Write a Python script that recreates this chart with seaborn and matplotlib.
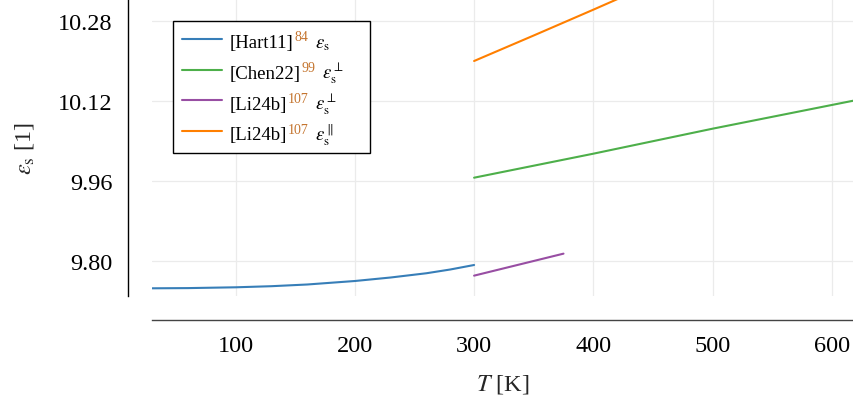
import numpy as np
import pandas as pd
import matplotlib
matplotlib.use("Agg")
import matplotlib.pyplot as plt
import seaborn as sns
from matplotlib.offsetbox import AnchoredOffsetbox, HPacker, VPacker, TextArea, DrawingArea
from matplotlib.lines import Line2D
from matplotlib.text import Text

# ---- data ----
hart_T = [30, 60, 100, 130, 160, 200, 230, 260, 280, 300]
hart_eps = [9.7454, 9.7458, 9.7474, 9.7496, 9.7530, 9.7600, 9.7670, 9.7755, 9.7830, 9.7920]

chen_T = [300, 400, 500, 600, 640]
chen_eps = [9.9666, 10.0146, 10.0646, 10.1120, 10.1310]

li_perp_T = [300, 375]
li_perp_eps = [9.7707, 9.8147]

li_par_T = [300, 350, 400, 450]
li_par_eps = [10.2000, 10.2510, 10.3026, 10.3550]

series_names = ["[Hart11]", "[Chen22]", "[Li24b]", "[Li24b]"]
series_refs = ["84", "99", "107", "107"]
series_syms = [r"$\varepsilon_\mathrm{s}$", r"$\varepsilon_\mathrm{s}^{\perp}$",
               r"$\varepsilon_\mathrm{s}^{\perp}$", r"$\varepsilon_\mathrm{s}^{\parallel}$"]
series_keys = ["hart", "chen", "liperp", "lipar"]
colors = ["#377eb8", "#4daf4a", "#984ea3", "#ff7f00"]

xticks = [100, 200, 300, 400, 500, 600]
yticks = [9.80, 9.96, 10.12, 10.28]
ytick_labels = ["9.80", "9.96", "10.12", "10.28"]

df = pd.concat([
    pd.DataFrame({"T": hart_T, "eps": hart_eps, "s": "hart"}),
    pd.DataFrame({"T": chen_T, "eps": chen_eps, "s": "chen"}),
    pd.DataFrame({"T": li_perp_T, "eps": li_perp_eps, "s": "liperp"}),
    pd.DataFrame({"T": li_par_T, "eps": li_par_eps, "s": "lipar"}),
], ignore_index=True)

sns.set_theme(style="white")
plt.rcParams["font.family"] = ["Liberation Serif", "DejaVu Serif"]
plt.rcParams["mathtext.fontset"] = "stix"

fig = plt.figure(figsize=(8.54, 4.06), dpi=100)
ax = fig.add_axes([152 / 854, (406 - 297) / 406, 702 / 854, 297 / 406])

sns.lineplot(data=df, x="T", y="eps", hue="s", hue_order=series_keys,
             palette=dict(zip(series_keys, colors)), lw=1.5, ax=ax,
             legend=False, estimator=None, sort=False)

ax.set_xlim(29.8, 618.7)
ax.set_ylim(9.73, 10.324)
ax.set_xticks(xticks)
ax.set_xticklabels([str(v) for v in xticks])
ax.set_yticks(yticks)
ax.set_yticklabels(ytick_labels)

ax.grid(True, color="#ebebeb", lw=0.9)
ax.set_axisbelow(True)
for s in ["top", "right"]:
    ax.spines[s].set_visible(False)
ax.spines["left"].set_position(("outward", 17.3))
ax.spines["bottom"].set_position(("outward", 17.3))
ax.spines["left"].set_color("black")
ax.spines["left"].set_linewidth(1.0)
ax.spines["bottom"].set_color("#444444")
ax.spines["bottom"].set_linewidth(1.0)

ax.tick_params(axis="both", labelsize=17.5, direction="inout", length=7, width=0.9,
               colors="black")
ax.tick_params(axis="y", color="#aaaaaa", pad=7.5)
ax.tick_params(axis="x", color="#666666", pad=7.6)

ax.set_xlabel(r"$T$ [K]", fontsize=17.5, labelpad=11.5)
ax.set_ylabel(r"$\varepsilon_\mathrm{s}$ [1]", fontsize=17.5, labelpad=15.8)

# ---- legend with coloured reference numbers ----
ref_color = "#c4742e"
fs = 13.5
sup_fs = 10
row_above = 15.6   # pt above baseline per row
row_below = 6.5    # pt below baseline per row
rows = []
for i, (name, ref, sym, col) in enumerate(zip(series_names, series_refs, series_syms, colors)):
    strut = DrawingArea(2.4, row_above + row_below, 0, row_below)
    da = DrawingArea(29, 10, 0, 0)
    da.add_artist(Line2D([0, 29], [6, 6], color=col, lw=1.5))
    gap1 = DrawingArea(5.2, 1, 0, 0)
    t1 = TextArea(name, textprops=dict(fontsize=fs, color="black"))
    w_sup = len(ref) * 0.5 * sup_fs
    sup = DrawingArea(w_sup + 1.2, 1, 0, 0)
    sup.add_artist(Text(1.0, 5.0, ref, fontsize=sup_fs, color=ref_color,
                        ha="left", va="baseline"))
    gap2 = DrawingArea(4.6, 1, 0, 0)
    t3 = TextArea(sym, textprops=dict(fontsize=fs, color="black"))
    children = [strut, da, gap1, t1, sup, gap2, t3]
    if i == 1:
        children.append(DrawingArea(15, 1, 0, 0))
    rows.append(HPacker(children=children, align="baseline", pad=0, sep=0))

outer = VPacker(children=rows, align="left", pad=3.6, sep=0)
box = AnchoredOffsetbox(loc="upper left", child=outer, pad=0.0, borderpad=0,
                        frameon=True, bbox_to_anchor=(173.3 / 854, 1 - 21.7 / 406),
                        bbox_transform=fig.transFigure)
box.patch.set_edgecolor("black")
box.patch.set_linewidth(1.0)
box.patch.set_facecolor("white")
ax.add_artist(box)

fig.savefig("out.png", dpi=100)
